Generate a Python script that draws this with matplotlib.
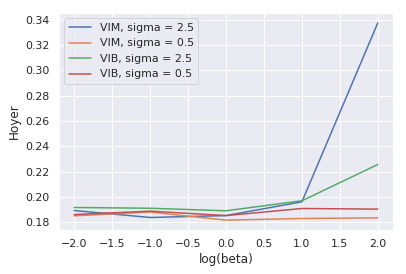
import matplotlib
matplotlib.use('Agg')
import matplotlib.pyplot as plt
import seaborn as sns

sns.set_theme()

log_beta = [-2, -1, 0, 1, 2]
vim_25 = [0.1892, 0.1837, 0.1852, 0.1961, 0.3376]
vim_05 = [0.1850, 0.1880, 0.1816, 0.1829, 0.1834]
vib_25 = [0.1916, 0.1910, 0.1890, 0.1969, 0.2256]
vib_05 = [0.1860, 0.1887, 0.1852, 0.1908, 0.1903]

fig = plt.figure(figsize=(406 / 72, 274 / 72), dpi=72)
ax = fig.add_subplot(1, 1, 1)
fig.subplots_adjust(left=0.1453, right=0.968, top=0.9526, bottom=0.1606)

ax.plot(log_beta, vim_25, label='VIM, sigma = 2.5')
ax.plot(log_beta, vim_05, label='VIM, sigma = 0.5')
ax.plot(log_beta, vib_25, label='VIB, sigma = 2.5')
ax.plot(log_beta, vib_05, label='VIB, sigma = 0.5')
ax.set_xlabel('log(beta)')
ax.set_ylabel('Hoyer')
ax.legend(loc='upper left')

fig.savefig('out.png', dpi=72)
